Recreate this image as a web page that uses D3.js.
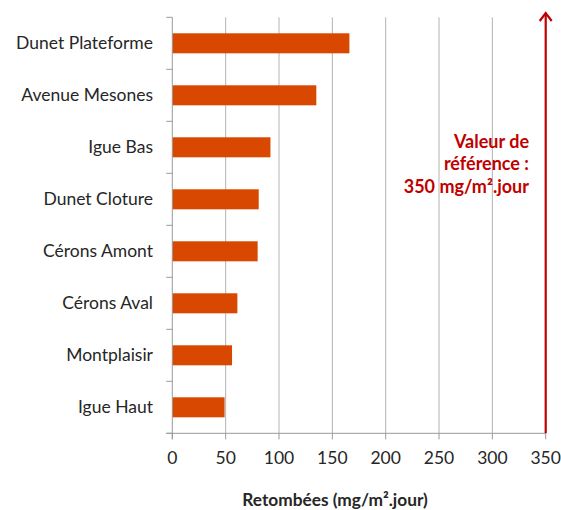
<!DOCTYPE html>
<html><head><meta charset="utf-8">
<script src="https://cdn.jsdelivr.net/npm/d3@7"></script>
<style>body{margin:0;background:#fff}</style>
</head><body>
<svg id="c" width="561" height="510"></svg>
<script>
const categories = ["Dunet Plateforme","Avenue Mesones","Igue Bas","Dunet Cloture","Cérons Amont","Cérons Aval","Montplaisir","Igue Haut"];
const values = [166, 135, 92, 81, 80, 61, 56, 49];
const xTicks = [0,50,100,150,200,250,300,350];
const refValue = 350;
const refLines = ["Valeur de","référence :","350 mg/m².jour"];
const xTitle = "Retombées (mg/m².jour)";

const font = "Lato, 'Open Sans', sans-serif";
const svg = d3.select("#c");
const m = {l:172.3, r:545.7, t:17.3, b:433.3};
const x = d3.scaleLinear().domain([0,350]).range([m.l, m.r]);
const y = d3.scaleBand().domain(categories).range([m.t, m.b]).paddingInner(0.615).paddingOuter(0.3075);

// gridlines
svg.append("g").selectAll("line").data(xTicks.slice(1)).join("line")
  .attr("x1", d=>x(d)).attr("x2", d=>x(d)).attr("y1", m.t).attr("y2", m.b)
  .attr("stroke", "#b3b3b3").attr("stroke-width", 1);

// bars
svg.append("g").selectAll("rect").data(values).join("rect")
  .attr("x", x(0)).attr("y", (d,i)=>y(categories[i]))
  .attr("width", d=>x(d)-x(0)).attr("height", y.bandwidth())
  .attr("fill", "#D94801");

// left axis line and ticks at band boundaries
const ax = svg.append("g");
ax.append("line").attr("x1", m.l).attr("x2", m.l).attr("y1", m.t).attr("y2", m.b+6).attr("stroke","#999");
const step = y.step();
ax.selectAll("line.t").data(d3.range(categories.length+1)).join("line").attr("class","t")
  .attr("x1", m.l-6).attr("x2", m.l).attr("y1", i=>m.t+i*step).attr("y2", i=>m.t+i*step).attr("stroke","#999");
// bottom axis
ax.append("line").attr("x1", m.l-6).attr("x2", m.r).attr("y1", m.b).attr("y2", m.b).attr("stroke","#999");
ax.selectAll("line.xt").data(xTicks).join("line").attr("class","xt")
  .attr("x1", d=>x(d)).attr("x2", d=>x(d)).attr("y1", m.b).attr("y2", m.b+6).attr("stroke","#999");

// category labels
svg.append("g").selectAll("text").data(categories).join("text")
  .attr("x", 153).attr("y", d=>y(d)+y.bandwidth()/2).attr("dy","0.35em")
  .attr("text-anchor","end").attr("font-family", font).attr("font-size", 17.5).attr("fill","#262626")
  .text(d=>d);

// x tick labels
svg.append("g").selectAll("text").data(xTicks).join("text")
  .attr("x", d=>x(d)).attr("y", 458).attr("dy","0.35em")
  .attr("text-anchor","middle").attr("font-family", font).attr("font-size", 17.5).attr("fill","#262626")
  .text(d=>d);

// x title
svg.append("text").attr("x", 335).attr("y", 500).attr("dy","0.35em").attr("text-anchor","middle")
  .attr("font-family", font).attr("font-weight","bold").attr("font-size", 17.3).attr("fill","#262626").text(xTitle);

// reference arrow
const rx = x(refValue);
svg.append("line").attr("x1", rx).attr("x2", rx).attr("y1", 13).attr("y2", m.b).attr("stroke","#C00000").attr("stroke-width",2.2);
svg.append("path").attr("d", `M${rx-6},${21} L${rx},${13} L${rx+6},${21}`).attr("fill","none")
  .attr("stroke","#C00000").attr("stroke-width",2.2);

// reference text
svg.append("g").selectAll("text").data(refLines).join("text")
  .attr("x", 529).attr("y", (d,i)=>141.5 + i*22.5).attr("dy","0.35em").attr("text-anchor","end")
  .attr("font-family", font).attr("font-weight","bold").attr("font-size", 18).attr("fill","#C00000")
  .text(d=>d);
</script>
</body></html>
